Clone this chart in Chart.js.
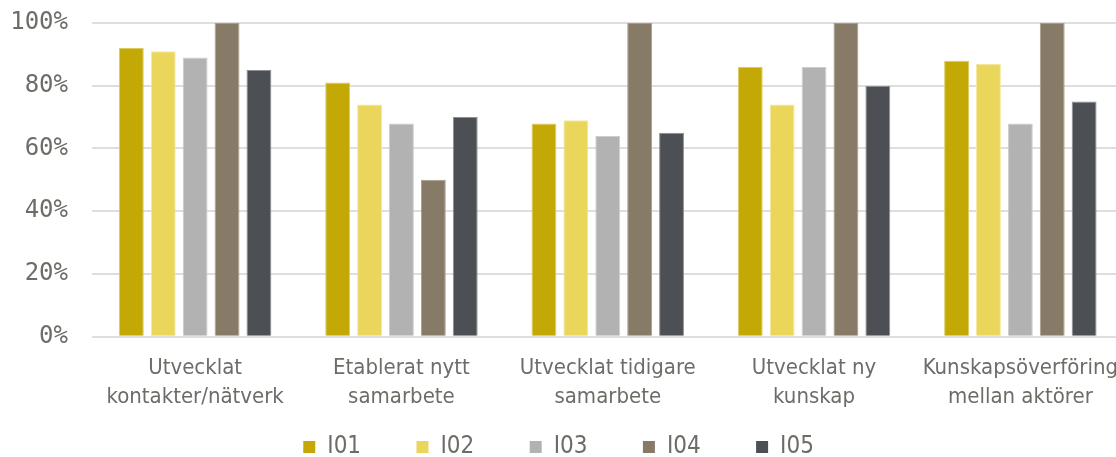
<!DOCTYPE html>
<html>
<head>
<meta charset="utf-8">
<script src="https://cdn.jsdelivr.net/npm/chart.js@4/dist/chart.umd.min.js"></script>
<style>
  html, body { margin: 0; padding: 0; background: #fff; overflow: hidden; }
  #wrap { width: 1128px; height: 457px; }
</style>
</head>
<body>
<div id="wrap"><canvas id="myChart"></canvas></div>
<script>
// Kategorier och värden (andel i procent)
const kategorier = [
  ['Utvecklat', 'kontakter/nätverk'],
  ['Etablerat nytt', 'samarbete'],
  ['Utvecklat tidigare', 'samarbete'],
  ['Utvecklat ny', 'kunskap'],
  ['Kunskapsöverföring', 'mellan aktörer']
];
const serieNamn = ['I01', 'I02', 'I03', 'I04', 'I05'];
const I01 = [92, 81, 68, 86, 88];
const I02 = [91, 74, 69, 74, 87];
const I03 = [89, 68, 64, 86, 68];
const I04 = [100, 50, 100, 100, 100];
const I05 = [85, 70, 65, 80, 75];
const yTicks = [0, 20, 40, 60, 80, 100];

const farger = ['#c4a906', '#ead65b', '#b2b2b2', '#877a66', '#4c4f54'];
const kanter = ['#dccb60', '#f4e8a0', '#cdcdcd', '#a89d8c', '#8c8f94'];
const varden = [I01, I02, I03, I04, I05];

const font = "'Liberation Sans Narrow', 'DejaVu Sans Condensed', sans-serif";
const textFarg = '#6d6d68';

const canvas = document.getElementById('myChart');
const chart = new Chart(canvas, {
  type: 'bar',
  data: {
    labels: kategorier,
    datasets: serieNamn.map((namn, i) => ({
      label: namn,
      data: varden[i],
      backgroundColor: farger[i],
      borderColor: kanter[i],
      borderWidth: 1,
      barPercentage: 0.78,
      categoryPercentage: 0.773
    }))
  },
  options: {
    responsive: true,
    maintainAspectRatio: false,
    animation: false,
    layout: { padding: { top: 23, right: 0, left: 0, bottom: -12 } },
    plugins: {
      tooltip: { enabled: false },
      legend: {
        position: 'bottom',
        labels: {
          boxWidth: 12,
          boxHeight: 12,
          padding: 14,
          color: textFarg,
          font: { family: font, size: 24 },
          // extra luft mellan posterna i förklaringen
          generateLabels: (c) => Chart.defaults.plugins.legend.labels.generateLabels(c)
            .map((l, i, alla) => ({
              ...l,
              lineWidth: 0,
              fillStyle: farger[i],
              text: l.text + (i < alla.length - 1 ? '\u2002\u2002\u2002\u00a0\u200a' : '\u2002')
            }))
        }
      }
    },
    scales: {
      x: {
        grid: { display: false },
        border: { display: false },
        ticks: {
          color: textFarg,
          font: { family: font, size: 22, lineHeight: 1.28 },
          maxRotation: 0,
          autoSkip: false,
          padding: 10
        }
      },
      y: {
        min: 0,
        max: 100,
        afterFit: (s) => { s.width = 92; },
        afterBuildTicks: (s) => { s.ticks = yTicks.map(v => ({ value: v })); },
        grid: { color: '#dedede', lineWidth: 2, drawTicks: true, tickLength: 24, tickColor: 'rgba(0,0,0,0)' },
        border: { display: false },
        ticks: {
          color: textFarg,
          font: { family: "'DejaVu Sans Mono', monospace", size: 24 },
          padding: 0,
          callback: (v) => v + '%'
        }
      }
    }
  }
});
</script>
</body>
</html>
